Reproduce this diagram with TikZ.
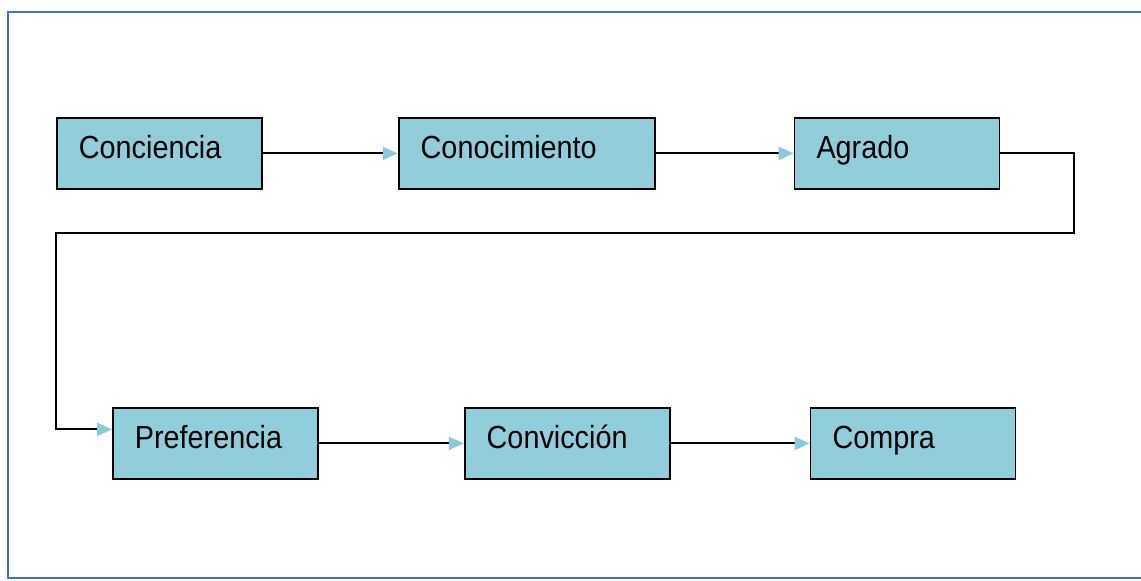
\documentclass[tikz,border=0pt]{standalone}
\usepackage{fontspec}
\setmainfont{Liberation Sans}[FakeStretch=0.9]
\usepackage{tikz}
\usetikzlibrary{positioning,arrows.meta}
\definecolor{stagefill}{HTML}{92CDDC}
\definecolor{tipblue}{HTML}{8DC9DB}
\definecolor{framblue}{HTML}{4472C4}
\tikzset{
  stage/.style={draw=black,line width=1.8pt,fill=stagefill,anchor=north west,
    inner xsep=22pt,inner ysep=0pt,text width=161pt,align=left,
    text height=41pt,text depth=30pt,font=\fontsize{32}{38}\selectfont},
  flow/.style={draw=black,line width=2pt,
    -{Triangle[length=15pt,width=13pt,color=tipblue]}}
}

\begin{document}
\begin{tikzpicture}[x=1pt,y=-1pt]
  \useasboundingbox (0,0) rectangle (1141,581);
  \draw[framblue,line width=2.6pt] (8,12) rectangle (1160,578);
  % first row
  \node[stage] (conc) at (56,117) {Conciencia};
  \node[stage,text width=212pt,right=135pt of conc.north east,anchor=north west] (cono) {Conocimiento};
  \node[stage,right=138pt of cono.north east,anchor=north west] (agra) {Agrado};
  % second row
  \node[stage] (pref) at (112,407) {Preferencia};
  \node[stage,right=145pt of pref.north east,anchor=north west] (conv) {Convicción};
  \node[stage,right=139pt of conv.north east,anchor=north west] (comp) {Compra};
  \coordinate (bendR) at (1074,233);
  \coordinate (bendL) at (56,233);
  \draw[flow] (conc) -- (cono);
  \draw[flow] (cono) -- (agra);
  \draw[flow] (agra.east) -| (bendR) -- (bendL) |- ([yshift=14pt]pref.west);
  \draw[flow] (pref) -- (conv);
  \draw[flow] (conv) -- (comp);
\end{tikzpicture}
\end{document}
